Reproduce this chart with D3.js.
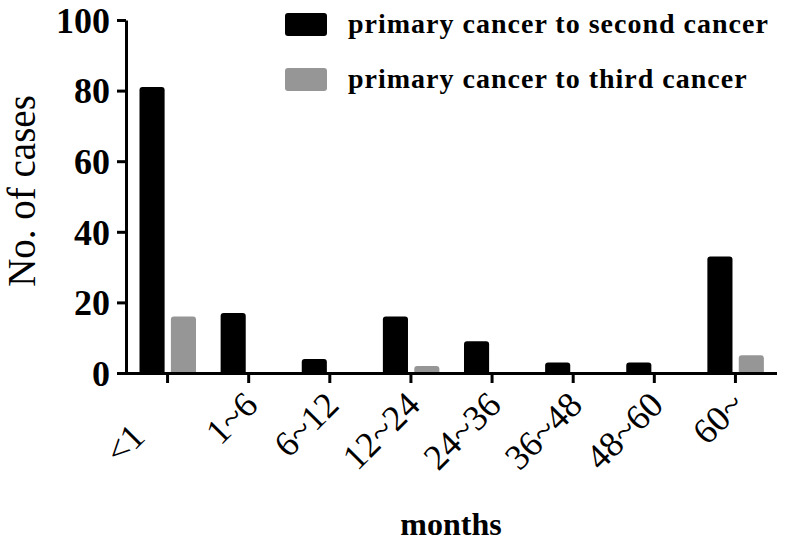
<!DOCTYPE html>
<html>
<head>
<meta charset="utf-8">
<script src="https://cdn.jsdelivr.net/npm/d3@7"></script>
<style>
  html, body { margin: 0; padding: 0; background: #fff; }
  svg { display: block; }
  text { font-family: "Liberation Serif", "Times New Roman", serif; }
</style>
</head>
<body>
<svg id="chart" width="786" height="541"></svg>
<script>
// ---- data ----
const categories = ["<1", "1~6", "6~12", "12~24", "24~36", "36~48", "48~60", "60~"];
const tickLabels = ["<1\u00a0\u00a0\u00a0\u00a0\u00a0", "1~6", "6~12", "12~24", "24~36", "36~48", "48~60", "60~"];
const seriesNames = ["primary cancer to second cancer", "primary cancer to third cancer"];
const secondCancer = [81, 17, 4, 16, 9, 3, 3, 33];
const thirdCancer = [16, 0, 0, 2, 0, 0, 0, 5];
const yTicks = [0, 20, 40, 60, 80, 100];
const colors = ["#000000", "#969696"];

// ---- layout ----
const svg = d3.select("#chart");
const plot = { left: 126, right: 777, top: 20, bottom: 373 };

const x0 = d3.scaleBand().domain(categories).range([127, 776]).paddingInner(0).paddingOuter(0);
const x1 = d3.scaleBand().domain(seriesNames).range([12.5, 69]).paddingInner(0.2).paddingOuter(0);
const y = d3.scaleLinear().domain([0, 100]).range([plot.bottom, plot.top]);

const seriesValues = [secondCancer, thirdCancer];

// bars
const groups = svg.append("g").selectAll("g")
  .data(categories)
  .join("g")
  .attr("transform", d => `translate(${x0(d)},0)`);

groups.selectAll("rect")
  .data((c, i) => seriesNames.map((s, k) => ({ s, k, v: seriesValues[k][i] })).filter(d => d.v > 0))
  .join("rect")
  .attr("x", d => x1(d.s))
  .attr("width", x1.bandwidth())
  .attr("y", d => y(d.v))
  .attr("height", d => y(0) - y(d.v) + 2)
  .attr("rx", 3)
  .attr("fill", d => colors[d.k]);

// y axis
const yAxis = svg.append("g")
  .attr("transform", `translate(${plot.left},0)`)
  .call(d3.axisLeft(y).tickValues(yTicks).tickSize(9).tickPadding(7).tickSizeOuter(0));
yAxis.select(".domain").attr("stroke-width", 3);
yAxis.selectAll(".tick line").attr("stroke-width", 3);
yAxis.selectAll(".tick text")
  .attr("font-size", 36).attr("font-weight", "bold")
  .attr("font-family", "Liberation Serif, serif")
  .attr("fill", "#000").attr("dy", "0.34em");

// x axis
const xAxis = svg.append("g")
  .attr("transform", `translate(0,${plot.bottom})`)
  .call(d3.axisBottom(x0).tickSize(10).tickSizeOuter(0).tickFormat((d, i) => tickLabels[i]));
xAxis.select(".domain").attr("stroke-width", 3).attr("d", `M${plot.left - 1.5},0.5H${plot.right}`);
xAxis.selectAll(".tick line").attr("stroke-width", 3);
xAxis.selectAll(".tick text")
  .attr("font-size", 36)
  .attr("font-family", "Liberation Serif, serif")
  .attr("fill", "#000")
  .attr("text-anchor", "end")
  .attr("x", 0).attr("y", 0).attr("dy", 0)
  .attr("transform", "translate(11,34) rotate(-45)")
  .style("white-space", "pre");

// axis titles
svg.append("text")
  .attr("transform", `translate(35,191) rotate(-90)`)
  .attr("text-anchor", "middle")
  .attr("font-size", 39)
  .attr("fill", "#000")
  .text("No. of cases");

svg.append("text")
  .attr("x", 451).attr("y", 535)
  .attr("text-anchor", "middle")
  .attr("font-size", 32).attr("font-weight", "bold")
  .attr("fill", "#000")
  .text("months");

// legend
const legend = svg.append("g").selectAll("g")
  .data(seriesNames)
  .join("g")
  .attr("transform", (d, i) => `translate(285,${13 + i * 55})`);
legend.append("rect")
  .attr("width", 42).attr("height", 23).attr("rx", 3)
  .attr("fill", (d, i) => colors[i]);
legend.append("text")
  .attr("x", 63).attr("y", 20)
  .attr("font-size", 28).attr("font-weight", "bold")
  .attr("letter-spacing", 1)
  .attr("fill", "#000")
  .text(d => d);
</script>
</body>
</html>
